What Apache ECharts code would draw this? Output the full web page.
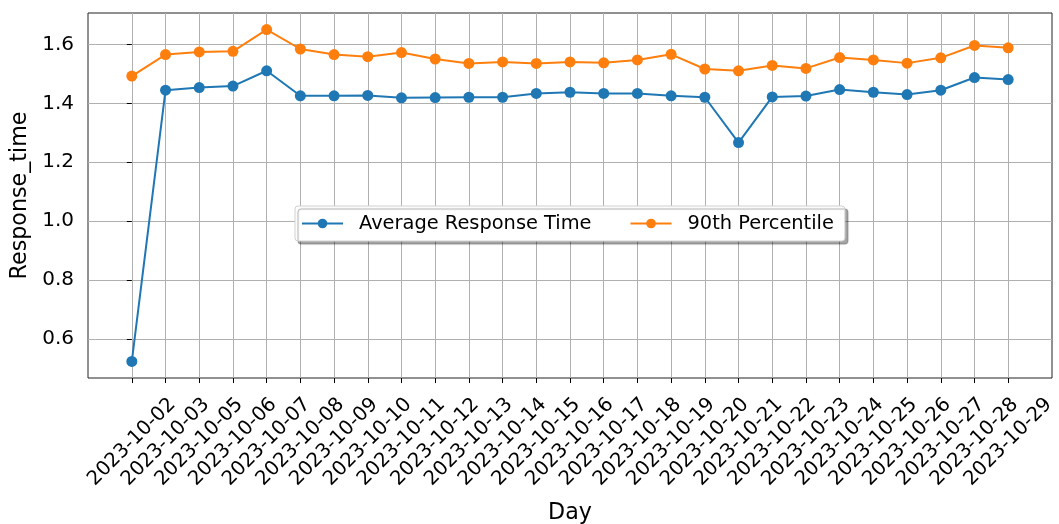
<!DOCTYPE html>
<html><head><meta charset="utf-8">
<script src="https://cdn.jsdelivr.net/npm/echarts@6/dist/echarts.min.js"></script>
<style>html,body{margin:0;padding:0;background:#fff}#c{width:1059px;height:524px}</style>
</head><body><div id="c"></div>
<script>
const categories = ['2023-10-02','2023-10-03','2023-10-05','2023-10-06','2023-10-07','2023-10-08','2023-10-09','2023-10-10','2023-10-11','2023-10-12','2023-10-13','2023-10-14','2023-10-15','2023-10-16','2023-10-17','2023-10-18','2023-10-19','2023-10-20','2023-10-21','2023-10-22','2023-10-23','2023-10-24','2023-10-25','2023-10-26','2023-10-27','2023-10-28','2023-10-29'];
const avgResponse = [0.523,1.445,1.454,1.459,1.511,1.426,1.426,1.427,1.419,1.420,1.421,1.421,1.434,1.438,1.434,1.434,1.426,1.421,1.267,1.422,1.425,1.447,1.438,1.430,1.445,1.488,1.481];
const p90Response = [1.493,1.566,1.575,1.577,1.651,1.585,1.566,1.559,1.573,1.551,1.536,1.541,1.536,1.541,1.538,1.548,1.567,1.517,1.511,1.529,1.519,1.556,1.548,1.537,1.555,1.597,1.589];
const yTicks = [0.6,0.8,1.0,1.2,1.4,1.6];
const seriesNames = ['Average Response Time','90th Percentile'];

const xTicks = categories.map((_, i) => i);
const FONT = 'DejaVu Sans';
const chart = echarts.init(document.getElementById('c'), null, {renderer:'canvas'});
chart.setOption({
  animation: false,
  backgroundColor: '#fff',
  textStyle: {fontFamily: FONT},
  grid: {left: 88, right: 7, top: 13, bottom: 146, show: true, borderColor: '#222', borderWidth: 1, backgroundColor: 'transparent', outerBoundsMode: 'none', containLabel: false},
  legend: {
    left: 295, top: 206,
    data: seriesNames,
    itemWidth: 41, itemHeight: 12, itemGap: 38,
    padding: [8, 11, 8, 6],
    backgroundColor: '#fff', borderColor: '#d0d0d0', borderWidth: 1, borderRadius: 3,
    shadowColor: 'rgba(0,0,0,0.35)', shadowOffsetX: 3, shadowOffsetY: 3, shadowBlur: 1,
    textStyle: {fontFamily: FONT, fontSize: 19.4, color: '#000', padding: [0,0,0,11]}
  },
  xAxis: {
    type: 'value', min: -1.3, max: 27.3,
    name: 'Day', nameLocation: 'middle', nameGap: 124,
    nameTextStyle: {fontFamily: FONT, fontSize: 22.2, color: '#000'},
    axisLine: {show: false},
    axisTick: {show: true, length: 5, lineStyle: {color: '#000'}, customValues: xTicks},
    axisLabel: {customValues: xTicks, rotate: 45, align: 'center', verticalAlign: 'middle', margin: 64,
      fontFamily: FONT, fontSize: 19.8, color: '#000',
      formatter: v => categories[Math.round(v)] || ''},
    splitLine: {show: true, lineStyle: {color: '#b0b0b0', width: 1}}
  },
  yAxis: {
    type: 'value', min: 0.4666, max: 1.7074,
    name: 'Response_time', nameLocation: 'middle', nameGap: 55,
    nameTextStyle: {fontFamily: FONT, fontSize: 22.2, color: '#000'},
    axisLine: {show: false},
    axisTick: {show: true, length: 5, lineStyle: {color: '#000'}, customValues: yTicks},
    axisLabel: {customValues: yTicks, margin: 14, fontFamily: FONT, fontSize: 20, color: '#000',
      formatter: v => v.toFixed(1)},
    splitLine: {show: true, lineStyle: {color: '#b0b0b0', width: 1}}
  },
  series: [
    {name: seriesNames[0], type: 'line', data: avgResponse.map((v,i)=>[i,v]),
     symbol: 'circle', symbolSize: 11, color: '#1f77b4', lineStyle: {width: 2, color: '#1f77b4'}, itemStyle: {color: '#1f77b4'}},
    {name: seriesNames[1], type: 'line', data: p90Response.map((v,i)=>[i,v]),
     symbol: 'circle', symbolSize: 11, color: '#ff7f0e', lineStyle: {width: 2, color: '#ff7f0e'}, itemStyle: {color: '#ff7f0e'}}
  ]
});
</script>
</body></html>
